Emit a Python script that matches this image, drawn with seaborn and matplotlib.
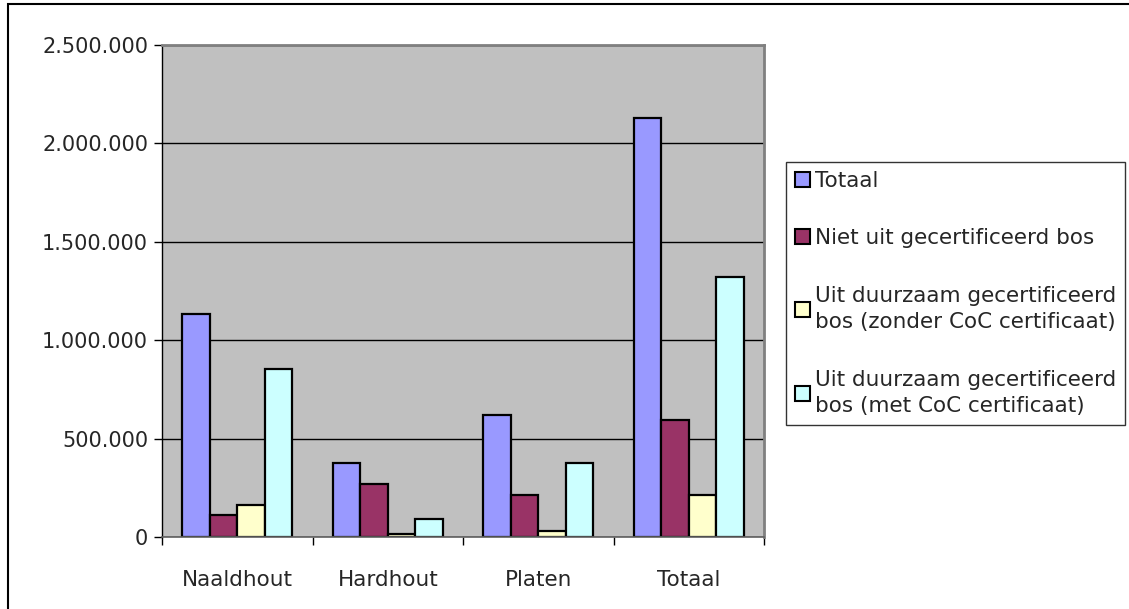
import pandas as pd
import matplotlib.pyplot as plt
import matplotlib.patches as mpatches
from matplotlib.ticker import FuncFormatter, FixedLocator
import seaborn as sns

# data (m3)
categorieen = ['Naaldhout', 'Hardhout', 'Platen', 'Totaal']
reeksen = ['Totaal',
           'Niet uit gecertificeerd bos',
           'Uit duurzaam gecertificeerd\nbos (zonder CoC certificaat)',
           'Uit duurzaam gecertificeerd\nbos (met CoC certificaat)']
totaal = [1132000, 377000, 619000, 2130000]
niet_gecert = [111000, 269000, 211000, 593000]
zonder_coc = [164000, 16000, 32000, 213000]
met_coc = [856000, 91000, 375000, 1322000]
kleuren = ['#9999FF', '#993366', '#FFFFCC', '#CCFFFF']

rows = []
for reeks, waarden in zip(reeksen, [totaal, niet_gecert, zonder_coc, met_coc]):
    for cat, w in zip(categorieen, waarden):
        rows.append({'categorie': cat, 'reeks': reeks, 'waarde': w})
df = pd.DataFrame(rows)

sns.set_style('white')
plt.rcParams['font.family'] = ['DejaVu Sans']

W, H = 1129, 609
fig = plt.figure(figsize=(W / 100, H / 100), dpi=100)
ax = fig.add_axes([162 / W, 1 - 537 / H, (764 - 162) / W, (537 - 45) / H])
ax.set_facecolor('#C0C0C0')

sns.barplot(data=df, x='categorie', y='waarde', hue='reeks', order=categorieen,
            hue_order=reeksen, palette=kleuren, edgecolor='black', linewidth=1.6,
            width=0.73, saturation=1, ax=ax)

ax.set_ylim(0, 2500000)
ax.set_xlim(-0.5, 3.5)
ax.set_yticks(range(0, 2500001, 500000))
ax.yaxis.set_major_formatter(FuncFormatter(lambda v, p: f"{int(v):,}".replace(',', '.')))
ax.grid(axis='y', color='black', linewidth=1)
ax.set_axisbelow(True)
ax.set_xlabel('')
ax.set_ylabel('')

ax.xaxis.set_minor_locator(FixedLocator([-0.5, 0.5, 1.5, 2.5, 3.5]))
ax.tick_params(axis='x', which='major', length=0, pad=24, labelsize=15.5)
ax.tick_params(axis='x', which='minor', length=6, width=1, color='black', direction='out', bottom=True)
ax.tick_params(axis='y', length=6, width=1, color='black', direction='out', left=True, labelsize=15, pad=4)

for s in ['top', 'right']:
    ax.spines[s].set_color('#808080')
    ax.spines[s].set_linewidth(2)
ax.spines['left'].set_color('black')
ax.spines['left'].set_linewidth(1)
ax.spines['bottom'].set_color('#606060')
ax.spines['bottom'].set_linewidth(1.2)

leg = ax.legend(loc='upper left', bbox_to_anchor=(786 / W, 1 - 162 / H),
                bbox_transform=fig.transFigure, frameon=True, fancybox=False,
                fontsize=15.5, handlelength=0.7, handleheight=0.7, handletextpad=0.25,
                labelspacing=1.75, borderpad=0.4, borderaxespad=0, title=None)
leg.get_frame().set_edgecolor('black')
leg.get_frame().set_linewidth(1)
for t in leg.get_texts():
    t.set_linespacing(1.4)
for h in leg.legend_handles:
    h.set_edgecolor('black')
    h.set_linewidth(1.5)

# rand rond de hele grafiek
fig.add_artist(mpatches.Rectangle((8 / W, -0.1), 1.2, 1 - 4 / H + 0.1,
                                  transform=fig.transFigure, fill=False,
                                  edgecolor='black', linewidth=1.5))

fig.savefig('out.png', dpi=100)
